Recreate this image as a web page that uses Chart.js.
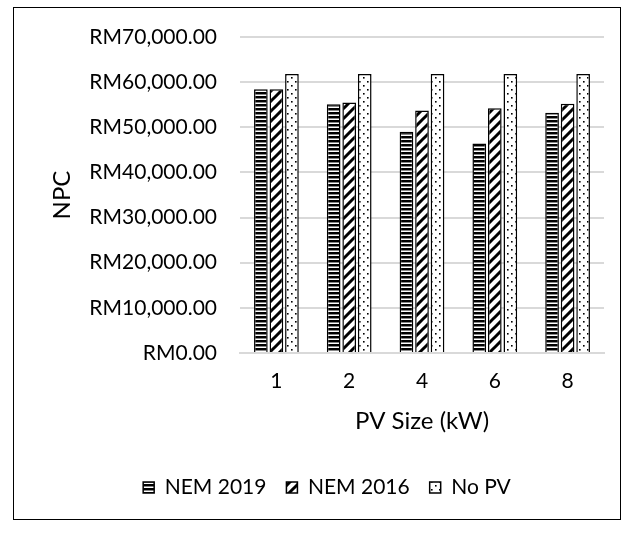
<!DOCTYPE html>
<html lang="en">
<head>
<meta charset="UTF-8">
<title>NPC vs PV Size</title>
<script src="https://cdn.jsdelivr.net/npm/chart.js"></script>
<style>
    body { margin: 0; background: #fff; }
    #frame {
        position: absolute;
        left: 13px; top: 7px;
        width: 606px; height: 511px;
        border: 1.5px solid #000;
    }
</style>
</head>
<body>
<div id="frame"><canvas id="chart" width="606" height="511"></canvas></div>
<script>
// data
const pvSizes = ["1", "2", "4", "6", "8"];
const nem2019 = [58400, 55100, 49000, 46400, 53200];
const nem2016 = [58400, 55500, 53700, 54200, 55200];
const noPv = [61800, 61800, 61800, 61800, 61800];
const seriesNames = ["NEM 2019", "NEM 2016", "No PV"];

const FONT = "Lato, 'Open Sans', sans-serif";

function makePattern(w, h, draw) {
    const c = document.createElement("canvas");
    c.width = w; c.height = h;
    const g = c.getContext("2d");
    g.fillStyle = "#fff";
    g.fillRect(0, 0, w, h);
    draw(g);
    return document.getElementById("chart").getContext("2d").createPattern(c, "repeat");
}

// horizontal stripes
const hStripes = makePattern(4, 4, g => {
    g.fillStyle = "#000";
    g.fillRect(0, 0, 4, 2);
    g.fillStyle = "#888";
    g.fillRect(0, 2, 4, 1);
});
// wide diagonal
const diag = makePattern(10, 10, g => {
    g.strokeStyle = "#000";
    g.lineWidth = 3;
    g.beginPath();
    g.moveTo(-2, 12); g.lineTo(12, -2);
    g.moveTo(-12, 12); g.lineTo(2, -2);
    g.moveTo(8, 12); g.lineTo(22, -2);
    g.stroke();
});
// dots
const dots = makePattern(8, 8, g => {
    g.fillStyle = "#000";
    g.fillRect(1, 1, 1.6, 1.6);
    g.fillRect(5, 5, 1.6, 1.6);
});

// nudge legend a bit to the right, like the excel original
const legendShift = {
    id: "legendShift",
    afterLayout(chart) {
        chart.legend.left += 18;
        chart.legend.right += 18;
    }
};

new Chart(document.getElementById("chart"), {
    type: "bar",
    data: {
        labels: pvSizes,
        datasets: [
            { label: seriesNames[0], data: nem2019, backgroundColor: hStripes },
            { label: seriesNames[1], data: nem2016, backgroundColor: diag },
            { label: seriesNames[2], data: noPv, backgroundColor: dots }
        ].map(d => Object.assign(d, {
            borderColor: "#000",
            borderWidth: 1.5,
            categoryPercentage: 0.64,
            barPercentage: 0.88
        }))
    },
    options: {
        responsive: false,
        animation: false,
        layout: { padding: { top: 29, right: 16, bottom: 11, left: 0 } },
        plugins: {
            legend: {
                position: "bottom",
                labels: {
                    color: "#000",
                    font: { family: FONT, size: 21 },
                    boxWidth: 11,
                    boxHeight: 11,
                    padding: 20
                }
            },
            tooltip: { enabled: false }
        },
        scales: {
            x: {
                grid: { display: false, drawTicks: false },
                border: { color: "#d9d9d9", width: 2 },
                ticks: { color: "#000", font: { family: FONT, size: 21 }, padding: 16 },
                title: {
                    display: true, text: "PV Size (kW)", color: "#000",
                    font: { family: FONT, size: 24 },
                    padding: { top: 0, bottom: 21 }
                },
                afterFit: s => { s.height = 104; s.paddingTop = 0; s.paddingBottom = 0; }
            },
            y: {
                min: 0, max: 70000,
                grid: { color: "#d9d9d9", lineWidth: 2, drawTicks: false },
                border: { display: false },
                ticks: {
                    stepSize: 10000,
                    color: "#000",
                    font: { family: FONT, size: 21 },
                    padding: 23,
                    callback: v => "RM" + v.toLocaleString("en-US", { minimumFractionDigits: 2, maximumFractionDigits: 2 })
                },
                title: {
                    display: true, text: "NPC", color: "#000",
                    font: { family: FONT, size: 24 },
                    padding: { top: 34, bottom: 0 }
                },
                afterFit: s => { s.width = 226; s.paddingTop = 0; s.paddingBottom = 0; }
            }
        }
    },
    plugins: [legendShift]
});
</script>
</body>
</html>
